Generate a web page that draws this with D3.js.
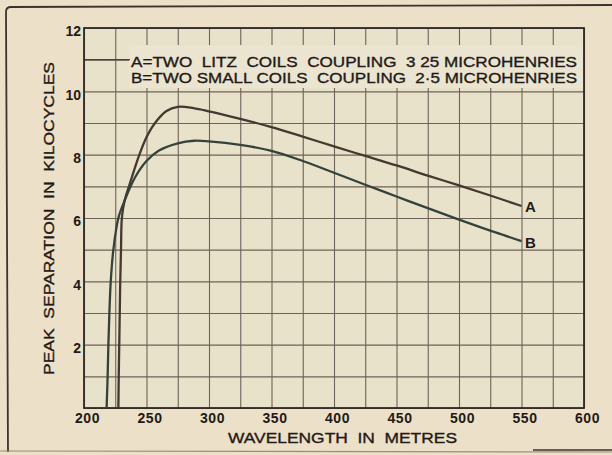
<!DOCTYPE html>
<html>
<head>
<meta charset="utf-8">
<script src="https://cdn.jsdelivr.net/npm/d3@7"></script>
<style>
  html, body { margin: 0; padding: 0; background: #ece0c8; }
  svg { display: block; }
  text { font-family: "Liberation Sans", Arial, sans-serif; fill: #1f1a17; }
  .heavy { stroke: #1f1a17; stroke-width: 0.35px; }
</style>
</head>
<body>
<svg id="chart" width="612" height="455"></svg>
<script>
// Peak separation (kilocycles) against wavelength (metres)
const wavelengthA = [227.5, 227.8, 228.2, 228.6, 229.0, 229.6, 230.3, 232.5, 236.8, 244.3, 250, 256.8, 266, 275, 287.5, 300, 325, 350, 375, 400, 425, 450, 475, 500, 525, 550];
const separationA = [0, 1, 2, 3, 4, 5, 6.0, 6.55, 7.1, 8.0, 8.55, 9.0, 9.38, 9.51, 9.47, 9.37, 9.13, 8.87, 8.57, 8.26, 7.96, 7.66, 7.34, 7.03, 6.71, 6.38];

const wavelengthB = [218.1, 218.9, 219.5, 220.3, 221.4, 223.5, 227.5, 232.5, 240.8, 250, 260, 275, 288, 300, 325, 350, 375, 400, 425, 450, 475, 500, 525, 550];
const separationB = [0, 1, 2, 3, 4, 5, 6.0, 6.55, 7.28, 7.8, 8.13, 8.36, 8.44, 8.42, 8.31, 8.12, 7.80, 7.43, 7.05, 6.68, 6.31, 5.95, 5.60, 5.27];

const xTickLabels = [200, 250, 300, 350, 400, 450, 500, 550, 600];
const yTickLabels = [2, 4, 6, 8, 10, 12];
const legendLines = [
  "A=TWO  LITZ  COILS  COUPLING  3 25 MICROHENRIES",
  "B=TWO SMALL COILS  COUPLING  2·5 MICROHENRIES"
];
const curveNames = ["A", "B"];

const svg = d3.select("#chart");
const plot = { left: 84, right: 584, top: 28, bottom: 408 };

const x = d3.scaleLinear().domain([200, 600]).range([plot.left, plot.right]);
const y = d3.scaleLinear().domain([0, 12]).range([plot.bottom, plot.top]);

// outer frame lines
const frame = svg.append("g").attr("fill", "none").attr("stroke", "#3b342e");
frame.append("path").attr("d", "M8,452 L6,12 Q6,7 11,7 L612,5").attr("stroke-width", 1.8);
frame.append("path").attr("d", "M0,451 L612,452").attr("stroke", "#9a8d7c").attr("stroke-width", 1.2);
frame.append("path").attr("d", "M533,450 L612,450").attr("stroke-width", 1.6);

// plot background
svg.append("rect")
  .attr("x", plot.left).attr("y", plot.top)
  .attr("width", plot.right - plot.left).attr("height", plot.bottom - plot.top)
  .attr("fill", "#e9e2ca");

// grid via axes
const grid = svg.append("g").attr("class", "grid");
grid.append("g")
  .attr("transform", `translate(0,${plot.bottom})`)
  .call(d3.axisBottom(x).tickValues(d3.range(200, 601, 25)).tickSize(-(plot.bottom - plot.top)).tickFormat(""))
  .call(g => g.select(".domain").remove())
  .call(g => g.selectAll("line").attr("stroke", "#6e6158").attr("stroke-width", 1.1));
grid.append("g")
  .attr("transform", `translate(${plot.left},0)`)
  .call(d3.axisLeft(y).tickValues(d3.range(0, 13, 1)).tickSize(-(plot.right - plot.left)).tickFormat(""))
  .call(g => g.select(".domain").remove())
  .call(g => g.selectAll("line").attr("stroke", "#6e6158").attr("stroke-width", 1.1));

// legend panel over the grid
svg.append("rect")
  .attr("x", 129).attr("y", 45).attr("width", plot.right - 129 - 1).attr("height", 43)
  .attr("fill", "#ebe4d0");
// leader from the axis into the legend
svg.append("line")
  .attr("x1", plot.left).attr("x2", 130)
  .attr("y1", y(11)).attr("y2", y(11))
  .attr("stroke", "#4a413a").attr("stroke-width", 1.2);

svg.selectAll("text.legend")
  .data(legendLines)
  .join("text")
  .attr("class", "legend heavy")
  .attr("x", 131)
  .attr("y", (d, i) => 66.5 + i * 16.8)
  .attr("font-size", 15)
  .attr("textLength", 446)
  .attr("lengthAdjust", "spacingAndGlyphs")
  .style("white-space", "pre")
  .text(d => d);

// plot border
svg.append("rect")
  .attr("x", plot.left).attr("y", plot.top)
  .attr("width", plot.right - plot.left).attr("height", plot.bottom - plot.top)
  .attr("fill", "none").attr("stroke", "#2f2a26").attr("stroke-width", 1.8);

// tick labels
svg.append("g")
  .attr("transform", `translate(0,${plot.bottom})`)
  .call(d3.axisBottom(x).tickValues(xTickLabels).tickSize(0).tickPadding(5))
  .call(g => g.select(".domain").remove())
  .call(g => g.selectAll("text")
    .attr("dx", 3)
    .attr("font-size", 14).attr("font-weight", "bold")
    .attr("letter-spacing", 0.6)
    .attr("font-family", "'Liberation Sans', Arial, sans-serif")
    .attr("fill", "#2a2420"));

svg.append("g")
  .attr("transform", `translate(${plot.left},0)`)
  .call(d3.axisLeft(y).tickValues(yTickLabels).tickSize(0).tickPadding(3))
  .call(g => g.select(".domain").remove())
  .call(g => g.selectAll("text")
    .attr("dy", "0.55em")
    .attr("font-size", 14).attr("font-weight", "bold")
    .attr("font-family", "'Liberation Sans', Arial, sans-serif")
    .attr("fill", "#2a2420"));

// axis titles
svg.append("text")
  .attr("class", "heavy")
  .attr("x", 228).attr("y", 443)
  .attr("font-size", 15.5)
  .attr("textLength", 229).attr("lengthAdjust", "spacingAndGlyphs")
  .style("white-space", "pre")
  .text("WAVELENGTH  IN  METRES");

svg.append("text")
  .attr("class", "heavy")
  .attr("transform", "translate(53.5,375) rotate(-90)")
  .attr("font-size", 15.5)
  .attr("textLength", 313).attr("lengthAdjust", "spacingAndGlyphs")
  .style("white-space", "pre")
  .text("PEAK  SEPARATION  IN  KILOCYCLES");

// curves
const line = d3.line()
  .x(d => x(d[0]))
  .y(d => y(d[1]))
  .curve(d3.curveCatmullRom.alpha(0.5));

const series = [
  { name: curveNames[0], pts: d3.zip(wavelengthA, separationA), color: "#463830" },
  { name: curveNames[1], pts: d3.zip(wavelengthB, separationB), color: "#34423a" }
];

svg.selectAll("path.curve")
  .data(series)
  .join("path")
  .attr("class", "curve")
  .attr("d", d => line(d.pts))
  .attr("fill", "none")
  .attr("stroke", d => d.color)
  .attr("stroke-width", 2.3)
  .attr("stroke-linejoin", "round");

svg.selectAll("text.endlabel")
  .data(series)
  .join("text")
  .attr("class", "endlabel")
  .attr("x", d => x(d.pts[d.pts.length - 1][0]) + 3.5)
  .attr("y", d => y(d.pts[d.pts.length - 1][1]) + 6.5)
  .attr("font-size", 15).attr("font-weight", "bold")
  .text(d => d.name);
</script>
</body>
</html>
